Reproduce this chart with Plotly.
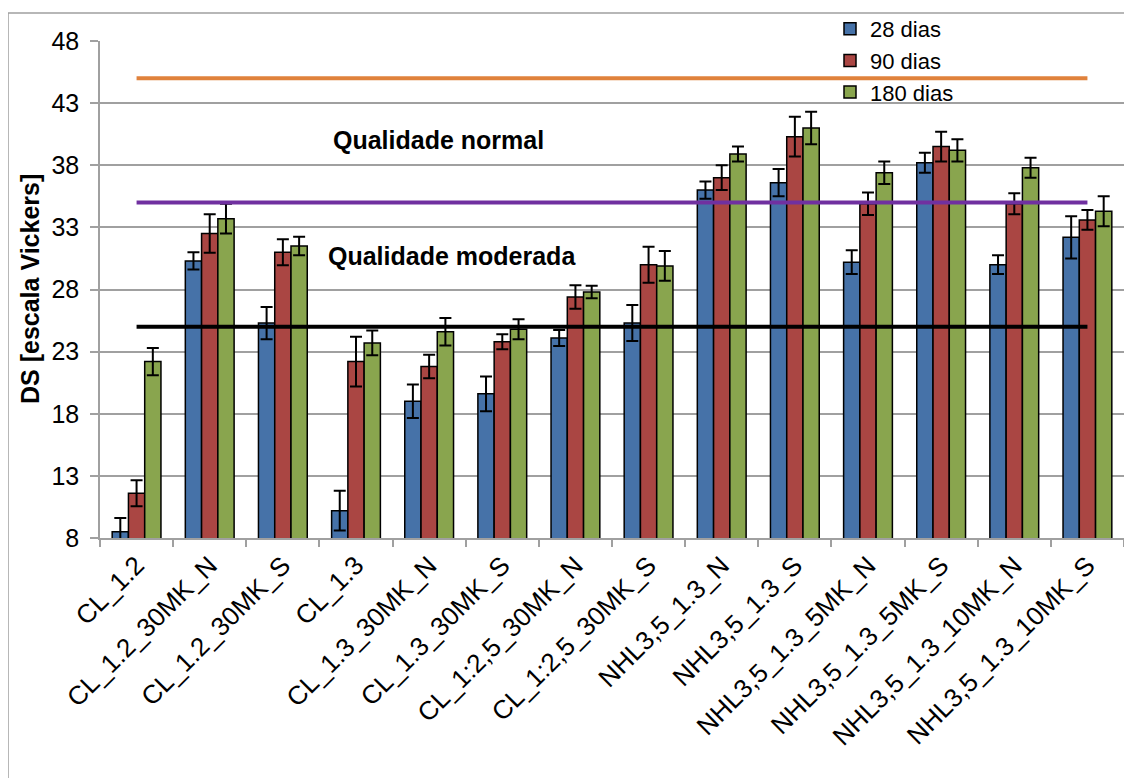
import plotly.graph_objects as go

categories = ["CL_1.2", "CL_1.2_30MK_N", "CL_1.2_30MK_S", "CL_1.3", "CL_1.3_30MK_N",
              "CL_1.3_30MK_S", "CL_1:2,5_30MK_N", "CL_1:2,5_30MK_S", "NHL3,5_1.3_N",
              "NHL3,5_1.3_S", "NHL3,5_1.3_5MK_N", "NHL3,5_1.3_5MK_S", "NHL3,5_1.3_10MK_N",
              "NHL3,5_1.3_10MK_S"]

series_names = ["28 dias", "90 dias", "180 dias"]

d28 = [8.5, 30.3, 25.3, 10.2, 19.0, 19.6, 24.1, 25.3, 36.0, 36.6, 30.2, 38.2, 30.0, 32.2]
d90 = [11.6, 32.5, 31.0, 22.2, 21.8, 23.8, 27.4, 30.0, 37.0, 40.3, 34.9, 39.5, 34.9, 33.6]
d180 = [22.2, 33.7, 31.5, 23.7, 24.6, 24.8, 27.8, 29.9, 38.9, 41.0, 37.4, 39.2, 37.8, 34.3]

e28 = [1.1, 0.7, 1.3, 1.6, 1.35, 1.4, 0.65, 1.45, 0.7, 1.1, 0.95, 0.8, 0.75, 1.7]
e90 = [1.05, 1.55, 1.05, 2.0, 0.95, 0.6, 0.95, 1.45, 1.0, 1.6, 0.9, 1.2, 0.85, 0.8]
e180 = [1.1, 1.2, 0.75, 1.0, 1.1, 0.8, 0.5, 1.2, 0.6, 1.3, 0.9, 0.9, 0.8, 1.2]

thresholds = [45, 35, 25]
threshold_colors = ["#E0823C", "#7030A0", "#000000"]

y_ticks = [8, 13, 18, 23, 28, 33, 38, 43, 48]

bar_colors = ["#4672A8", "#AA4643", "#89A54E"]

# page is rendered with an 8px body margin; work in page pixel coordinates
OFF = 8
W, H = 1132, 778
PL, PR, PT, PB = 100, 1124, 41, 538   # plot area in page pixels
L = PL - OFF
T = PT - OFF
R = W - (PR - OFF)
B = H - (PB - OFF)
PW = PR - PL
PH = PB - PT


def px(x):
    return (x - PL) / PW


def py(y):
    return (PB - y) / PH


FONT = "Liberation Sans, Arial, sans-serif"

fig = go.Figure()

for name, vals, errs, col in zip(series_names, [d28, d90, d180], [e28, e90, e180], bar_colors):
    fig.add_trace(go.Bar(
        x=categories, y=vals, name=name,
        marker=dict(color=col, line=dict(color="#000000", width=1.5)),
        error_y=dict(type="data", array=errs, visible=True, color="#000000",
                     thickness=2, width=6),
    ))

for val, col in zip(thresholds, threshold_colors):
    fig.add_trace(go.Scatter(
        x=[categories[0], categories[-1]], y=[val, val], mode="lines",
        line=dict(color=col, width=4), showlegend=False, hoverinfo="skip",
    ))

fig.update_layout(
    width=W, height=H,
    margin=dict(l=L, r=R, t=T, b=B, autoexpand=False),
    paper_bgcolor="white", plot_bgcolor="white",
    barmode="group", bargap=0.333, bargroupgap=0,
    font=dict(family=FONT, size=24, color="#000000"),
    showlegend=True,
    legend=dict(x=px(830), y=py(8), xanchor="left", yanchor="top",
                bgcolor="rgba(0,0,0,0)", font=dict(size=22, family=FONT),
                tracegroupgap=0),
    xaxis=dict(
        type="category", range=[-0.5, len(categories) - 0.5],
        showline=True, linecolor="#A0A0A0", linewidth=1.5,
        ticks="outside", tickson="boundaries", ticklen=7, tickcolor="#A0A0A0", tickwidth=1.5,
        tickangle=-45, tickfont=dict(size=26, family=FONT),
        showgrid=False, zeroline=False,
    ),
    yaxis=dict(
        range=[8, 48], tickvals=y_ticks, ticktext=[str(v) for v in y_ticks],
        showline=True, linecolor="#A0A0A0", linewidth=1.5,
        ticks="outside", ticklen=8, tickcolor="#A0A0A0", tickwidth=1.5,
        ticklabelstandoff=6,
        showgrid=True, gridcolor="#A0A0A0", gridwidth=1.5,
        tickfont=dict(size=25, family=FONT), zeroline=False,
    ),
    annotations=[
        dict(text="<b>DS [escala Vickers]</b>", textangle=-90, x=px(30), y=py(289),
             xref="paper", yref="paper", xanchor="center", yanchor="middle",
             showarrow=False, font=dict(size=25, family=FONT)),
        dict(text="<b>Qualidade normal</b>", x=px(438), y=py(140),
             xref="paper", yref="paper", xanchor="center", yanchor="middle",
             showarrow=False, font=dict(size=25, family=FONT)),
        dict(text="<b>Qualidade moderada</b>", x=px(452), y=py(256),
             xref="paper", yref="paper", xanchor="center", yanchor="middle",
             showarrow=False, font=dict(size=25, family=FONT)),
    ],
    shapes=[
        dict(type="rect", xref="paper", yref="paper", x0=px(8), x1=px(1150), y0=py(800), y1=py(13),
             line=dict(color="#A0A0A0", width=1.5), fillcolor="rgba(0,0,0,0)", layer="below"),
    ],
)

fig.write_html("out.html")
